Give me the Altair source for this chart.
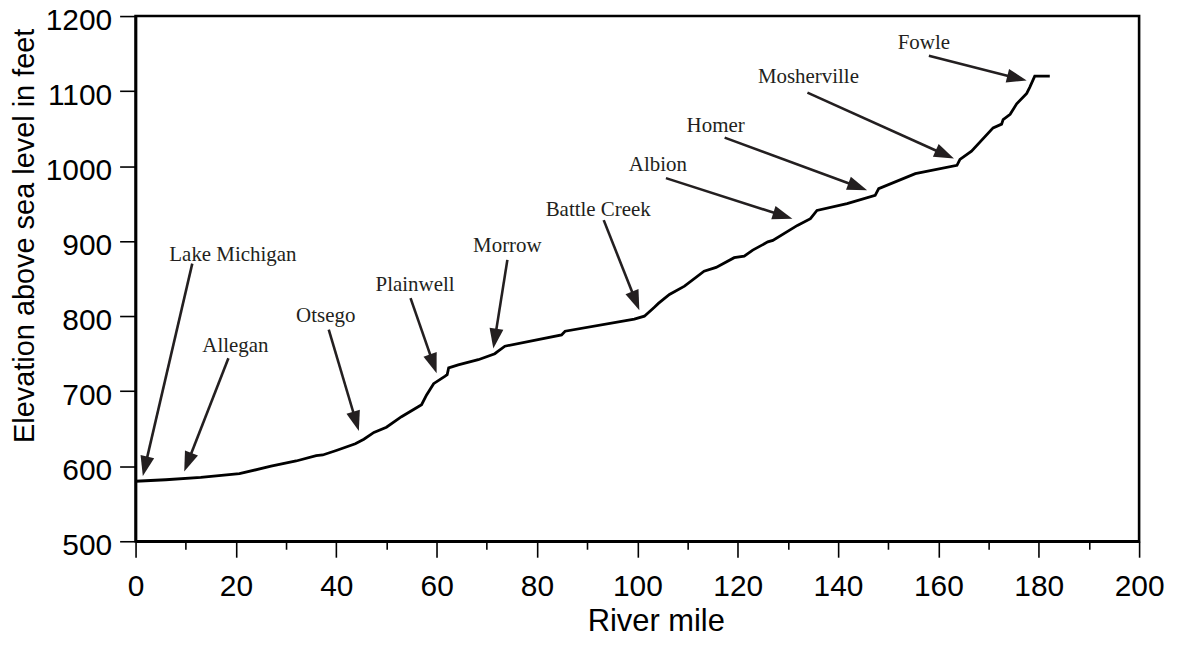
import math
import altair as alt
import pandas as pd

# ---- river profile (river mile, elevation in feet) ----
miles = [0, 6, 13, 20.7, 27, 32, 36, 37.3, 40, 43.8,
         45.5, 47.5, 50, 53, 56, 57, 58, 59.4, 61.7, 62.1,
         62.4, 64.3, 68.3, 71.6, 72.2, 73.6, 84.9, 85.6, 99.4, 101.4,
         103.4, 104.2, 106.4, 109.4, 113.3, 115.7, 119.3, 121.3, 123, 126,
         127, 131.9, 134.5, 135.8, 141.8, 147.4, 148.1, 155.4, 163.7, 164.3,
         166.6, 170.9, 172.6, 172.9, 174.3, 175.6, 177.6, 178.2, 179.2, 182.2]
elev = [580, 582, 585, 590, 600, 607, 614, 615, 621, 630,
        636, 645, 652, 666, 678, 682, 695, 710, 720, 722,
        731, 735, 742, 750, 753, 760, 775, 780, 796, 800,
        812, 817, 829, 840, 860, 865, 878, 880, 888, 899,
        901, 921, 930, 941, 950, 961, 970, 990, 1001, 1009,
        1020, 1051, 1056, 1062, 1069, 1083, 1097, 1105, 1120, 1120]

# ---- annotations ----
names = ["Lake Michigan", "Allegan", "Otsego", "Plainwell", "Morrow",
         "Battle Creek", "Albion", "Homer", "Mosherville", "Fowle"]
text_mile = [19.4, 19.9, 37.9, 55.7, 74.1, 92.2, 104.1, 115.6, 134.1, 157.1]
text_elev = [881, 760, 800, 841, 893, 941, 1001, 1054, 1119, 1164]
tail_mile = [11.3, 18.5, 38.5, 54.8, 74.1, 93.3, 105.7, 117.4, 133.9, 158.1]
tail_elev = [870, 744, 782, 824, 875, 928, 984, 1038, 1098, 1147]
tip_mile = [1.45, 9.7, 44.5, 60.0, 71.3, 100.4, 130.9, 145.8, 163.1, 177.6]
tip_elev = [587, 593, 647, 724, 757, 808, 930, 968, 1010, 1114]

x_major = [0, 20, 40, 60, 80, 100, 120, 140, 160, 180, 200]
x_minor = [10, 30, 50, 70, 90, 110, 130, 150, 170, 190]
y_major = [500, 600, 700, 800, 900, 1000, 1100, 1200]

W, H = 1007, 527
XD = [0, 200]
YD = [500, 1200]
pxx = W / (XD[1] - XD[0])
pxy = H / (YD[1] - YD[0])

INK = "#231f20"
HEAD = 20  # arrow head length in px

rows = []
for n, tm, te, am, ae, pm, pe in zip(names, text_mile, text_elev, tail_mile,
                                     tail_elev, tip_mile, tip_elev):
    dx = (pm - am) * pxx
    dy = -(pe - ae) * pxy
    L = math.hypot(dx, dy)
    ang = math.degrees(math.atan2(dx, -dy)) % 360
    back = HEAD * 0.6
    end_m = pm - dx / L * back / pxx
    end_e = pe + dy / L * back / pxy
    rows.append(dict(name=n, tm=tm, te=te, am=am, ae=ae, pm=pm, pe=pe,
                     em=end_m, ee=end_e, ang=ang))
ann = pd.DataFrame(rows)
prof = pd.DataFrame({"mile": miles, "elev": elev})
minor_df = pd.DataFrame({"m": x_minor})

xs = alt.Scale(domain=XD, nice=False, zero=False)
ys = alt.Scale(domain=YD, nice=False, zero=False)

x_axis = alt.Axis(values=x_major, title="River mile", tickSize=16,
                  tickWidth=1.6, tickColor="black", labelPadding=14,
                  labelFontSize=30, titleFontSize=31, grid=False,
                  titleY=90, titleBaseline="alphabetic", titleX=522,
                  orient="bottom", labelFlush=False, format="d")
y_axis = alt.Axis(values=y_major, title="Elevation above sea level in feet",
                  tickSize=16, tickWidth=1.6, tickColor="black",
                  labelPadding=8, labelFontSize=30, titleFontSize=29,
                  labelOffset=4,
                  grid=False, titleX=-102, titleY=220, titleAngle=270,
                  titleAlign="center", titleBaseline="alphabetic",
                  labelFlush=False, format="d")

line = alt.Chart(prof).mark_line(color="black", strokeWidth=2.8).encode(
    x=alt.X("mile:Q", scale=xs, axis=x_axis),
    y=alt.Y("elev:Q", scale=ys, axis=y_axis),
)

minor = alt.Chart(minor_df).mark_point(opacity=0).encode(
    x=alt.X("m:Q", scale=xs,
            axis=alt.Axis(values=x_minor, orient="bottom", labels=False,
                          domain=False, tickSize=8, tickWidth=1.6,
                          tickColor="black", title=None, grid=False)),
)

shafts = alt.Chart(ann).mark_rule(color=INK, strokeWidth=2.6).encode(
    x=alt.X("am:Q", scale=xs, axis=None), y=alt.Y("ae:Q", scale=ys, axis=y_axis),
    x2="em:Q", y2="ee:Q",
)

heads = alt.Chart(ann).mark_point(
    shape="M0,0L0.7,2L-0.7,2Z", filled=True, size=HEAD * HEAD,
    color=INK, opacity=1, strokeWidth=0,
).encode(
    x=alt.X("pm:Q", scale=xs, axis=None), y=alt.Y("pe:Q", scale=ys, axis=y_axis),
    angle=alt.Angle("ang:Q", scale=None),
)

labels = alt.Chart(ann).mark_text(
    font="Liberation Serif", fontSize=21, color=INK, align="center",
    baseline="middle",
).encode(
    x=alt.X("tm:Q", scale=xs, axis=None), y=alt.Y("te:Q", scale=ys, axis=y_axis),
    text="name:N",
)

chart = alt.layer(line, minor, shafts, heads, labels).resolve_axis(
    x="independent"
).properties(
    width=W, height=H,
    autosize=alt.AutoSizeParams(type="none"),
    padding={"left": 128, "top": 7, "right": 30, "bottom": 100},
).configure_view(
    stroke="black", strokeWidth=2.6,
).configure_axis(
    domainColor="black", domainWidth=2.6, labelColor="black",
    titleColor="black", labelFont="Liberation Sans",
    titleFont="Liberation Sans", titleFontWeight="normal",
)

chart.save("out.html", embed_options={"renderer": "svg", "actions": False})
